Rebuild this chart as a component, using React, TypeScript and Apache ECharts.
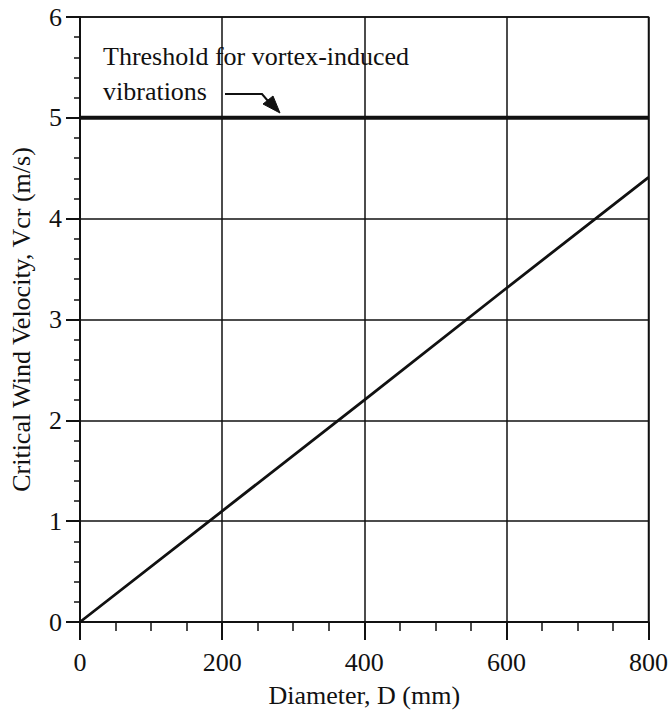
import React, { useEffect, useRef } from "react";
import * as echarts from "echarts";

const diameters = [0, 200, 400, 600, 800];
const criticalVelocity = [0, 1.1, 2.2, 3.31, 4.41];
const thresholdVelocity = 5;
const xRange = [0, 800];
const yRange = [0, 6];
const annotationLines = ["Threshold for vortex-induced", "vibrations"];
const xTitle = "Diameter, D (mm)";
const yTitle = "Critical Wind Velocity, Vcr (m/s)";

const FONT = "'Liberation Serif', 'Times New Roman', serif";
const INK = "#111";

export default function App() {
  const ref = useRef<HTMLDivElement>(null);
  useEffect(() => {
    if (!ref.current) return;
    const chart = echarts.init(ref.current, undefined, { renderer: "svg" });
    const lineData = diameters.map((d, i) => [d, criticalVelocity[i]]);
    const thresholdData = [
      [xRange[0], thresholdVelocity],
      [xRange[1], thresholdVelocity],
    ];
    chart.setOption({
      animation: false,
      backgroundColor: "#fff",
      textStyle: { fontFamily: FONT, color: INK },
      grid: {
        left: 80,
        right: 20,
        top: 17,
        bottom: 100,
        show: true,
        borderColor: INK,
        borderWidth: 1.5,
        backgroundColor: "transparent",
      },
      xAxis: {
        type: "value",
        min: xRange[0],
        max: xRange[1],
        interval: 200,
        name: xTitle,
        nameLocation: "middle",
        nameGap: 60,
        nameTextStyle: { fontFamily: FONT, fontSize: 26, color: INK },
        axisLine: { show: true, onZero: false, lineStyle: { color: INK, width: 2 } },
        axisTick: { show: true, inside: false, length: 18, lineStyle: { color: INK, width: 2 } },
        minorTick: { show: true, splitNumber: 4, length: 9, lineStyle: { color: INK, width: 1.5 } },
        axisLabel: { fontFamily: FONT, fontSize: 26, color: INK, margin: 27 },
        splitLine: { show: true, lineStyle: { color: INK, width: 1.5 } },
      },
      yAxis: {
        type: "value",
        min: yRange[0],
        max: yRange[1],
        interval: 1,
        name: yTitle,
        nameLocation: "middle",
        nameGap: 46,
        nameTextStyle: { fontFamily: FONT, fontSize: 26, color: INK },
        axisLine: { show: true, onZero: false, lineStyle: { color: INK, width: 2 } },
        axisTick: { show: true, inside: false, length: 14, lineStyle: { color: INK, width: 2 } },
        minorTick: { show: true, splitNumber: 5, length: 6, lineStyle: { color: INK, width: 1.5 } },
        axisLabel: { fontFamily: FONT, fontSize: 26, color: INK, margin: 18 },
        splitLine: { show: true, lineStyle: { color: INK, width: 1.5 } },
      },
      series: [
        {
          type: "line",
          data: lineData,
          showSymbol: false,
          symbol: "none",
          lineStyle: { color: INK, width: 2.8 },
          z: 3,
        },
        {
          type: "line",
          data: thresholdData,
          showSymbol: false,
          symbol: "none",
          lineStyle: { color: INK, width: 4 },
          z: 4,
        },
      ],
      graphic: [
        {
          type: "text",
          left: 103,
          top: 43,
          style: { text: annotationLines[0], font: `26px ${FONT}`, fill: INK },
        },
        {
          type: "text",
          left: 103,
          top: 78,
          style: { text: annotationLines[1], font: `26px ${FONT}`, fill: INK },
        },
        {
          type: "polyline",
          shape: { points: [[225, 94], [262, 94], [268, 101]] },
          style: { stroke: INK, lineWidth: 2, fill: "none" },
        },
        {
          type: "polygon",
          shape: { points: [[280, 113], [263, 104], [273, 96]] },
          style: { fill: INK, stroke: INK, lineWidth: 1 },
        },
      ],
    });
    return () => chart.dispose();
  }, []);
  return (
    <div
      ref={ref}
      style={{ position: "fixed", left: 0, top: 0, width: 671, height: 722 }}
    />
  );
}
